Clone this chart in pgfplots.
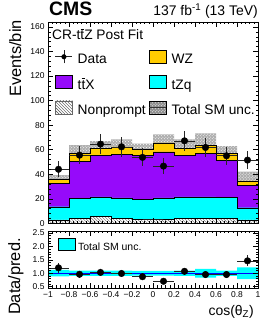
\documentclass[border=0pt]{standalone}
\usepackage{fontspec}
\setmainfont{Liberation Sans}
\usepackage{pgfplots}
\usepackage{pgfplotstable}
\pgfplotsset{compat=1.18}
\usepgfplotslibrary{fillbetween}
\usetikzlibrary{patterns}

\definecolor{wzc}{RGB}{255,204,0}
\definecolor{ttxc}{RGB}{150,10,250}
\definecolor{tzqc}{RGB}{0,255,255}
\definecolor{lineblue}{RGB}{0,0,255}

\newcommand\tbar{\leavevmode\rlap{\kern0.01em\raisebox{0.74em}{\rule{0.27em}{0.06em}}}t}

% stacked components per bin (left edge), last row repeated for the step end
\pgfplotstableread{
x np tzq ttx wz unc runc
-1.0 2.7 10.8 19.0 3.3 3.5 0.12
-0.8 4.0 16.3 30.3 6.3 6.8 0.10
-0.6 5.4 16.2 33.9 5.5 6.0 0.10
-0.4 4.0 16.8 35.5 6.0 6.0 0.10
-0.2 3.5 16.0 36.0 4.7 4.8 0.09
0.0 3.5 17.3 37.4 7.3 7.0 0.09
0.2 3.8 17.8 33.9 5.5 7.3 0.10
0.4 4.0 17.6 35.4 6.7 9.5 0.16
0.6 4.0 17.1 30.4 5.4 6.0 0.10
0.8 2.7 10.0 18.4 3.5 7.4 0.22
1.0 2.7 10.0 18.4 3.5 7.4 0.22
}\mc

\pgfplotstableread{
x ex y ey r er
-0.9 0.1 44.0 6.6 1.20 0.18
-0.7 0.1 55.5 7.5 0.96 0.13
-0.5 0.1 64.5 8.0 1.03 0.13
-0.3 0.1 62.3 7.9 0.99 0.13
-0.1 0.1 53.7 7.3 0.87 0.12
0.1 0.1 46.6 6.8 0.70 0.10
0.3 0.1 67.2 8.2 1.07 0.13
0.5 0.1 61.8 7.9 0.95 0.12
0.7 0.1 55.0 7.4 0.95 0.13
0.9 0.1 51.5 7.2 1.46 0.21
}\data

\pgfplotsset{
  cmsaxis/.style={
    scale only axis, anchor=south west, width=210bp,
    xmin=-1, xmax=1,
    xtick={-1,-0.8,-0.6,-0.4,-0.2,0,0.2,0.4,0.6,0.8,1},
    minor x tick num=4,
    tick align=inside,
    major tick length=5bp, minor tick length=2.5bp,
    tick style={black, line width=0.4bp},
    axis line style={line width=0.5bp},
    ticklabel style={font=\fontsize{8.5}{9}\selectfont},
    /pgf/number format/assume math mode=true,
    axis on top,
  },
  databars/.style={forget plot, only marks, mark=*, mark size=3.3bp, black,
    error bars/x dir=both, error bars/x explicit,
    error bars/y dir=both, error bars/y explicit,
    error bars/error mark=none,
    error bars/error bar style={black!85, line width=0.6bp}},
}

\begin{document}
\begin{tikzpicture}

\begin{axis}[cmsaxis,
  at={(48bp,103.7bp)}, height=201.3bp,
  ymin=0, ymax=164,
  xticklabels={},
  ytick={0,20,40,60,80,100,120,140,160},
  minor y tick num=4,
  legend columns=2,
  legend cell align=left,
  legend style={draw=none, fill=none, inner sep=0pt,
    at={(axis description cs:0.033,0.862)}, anchor=north west,
    font=\fontsize{13.8}{14}\selectfont,
    nodes={inner sep=0pt, text height=10bp, text depth=3bp},
    row sep=8.5bp,
    /tikz/every odd column/.append style={column sep=5bp},
    /tikz/every even column/.append style={column sep=3bp}},
]
% legend entries in display order
\addlegendimage{legend image code/.code={
  \draw[black!85, line width=0.6bp] (0bp,3.5bp)--(17bp,3.5bp);
  \draw[black!85, line width=0.6bp] (8.5bp,-3bp)--(8.5bp,10bp);
  \fill[black] (8.5bp,3.5bp) circle (2.3bp);}}
\addlegendentry{Data}
\addlegendimage{legend image code/.code={
  \draw[fill=wzc, line width=0.5bp] (0bp,-3bp) rectangle (17bp,10bp);}}
\addlegendentry{WZ}
\addlegendimage{legend image code/.code={
  \draw[fill=ttxc, line width=0.5bp] (0bp,-3bp) rectangle (17bp,10bp);}}
\addlegendentry{t\tbar X}
\addlegendimage{legend image code/.code={
  \draw[fill=tzqc, line width=0.5bp] (0bp,-3bp) rectangle (17bp,10bp);}}
\addlegendentry{tZq}
\addlegendimage{legend image code/.code={
  \draw[fill=white, postaction={pattern=north west lines, pattern color=black!70}, draw=black!60, line width=0.4bp] (0bp,-3bp) rectangle (17bp,10bp);}}
\addlegendentry{Nonprompt}
\addlegendimage{legend image code/.code={
  \fill[black!45] (0bp,-3bp) rectangle (17bp,10bp);
  \fill[pattern=crosshatch dots, pattern color=white] (0bp,-3bp) rectangle (17bp,10bp);
  \draw[black!80, line width=0.8bp] (0bp,3.5bp)--(17bp,3.5bp);}}
\addlegendentry{Total SM unc.}

% stacked histograms, drawn from the top of the stack downwards
\addplot[const plot, fill=wzc, draw=black, line width=0.4bp, forget plot]
  table[x=x, y expr=\thisrow{np}+\thisrow{tzq}+\thisrow{ttx}+\thisrow{wz}] {\mc} \closedcycle;
\addplot[const plot, fill=ttxc, draw=black, line width=0.4bp, forget plot]
  table[x=x, y expr=\thisrow{np}+\thisrow{tzq}+\thisrow{ttx}] {\mc} \closedcycle;
\addplot[const plot, fill=tzqc, draw=black, line width=0.4bp, forget plot]
  table[x=x, y expr=\thisrow{np}+\thisrow{tzq}] {\mc} \closedcycle;
\addplot[const plot, fill=white, postaction={pattern=north west lines, pattern color=black!60}, draw=black, line width=0.4bp, forget plot]
  table[x=x, y=np] {\mc} \closedcycle;

% total uncertainty band
\addplot[const plot, draw=none, name path=up, forget plot]
  table[x=x, y expr=\thisrow{np}+\thisrow{tzq}+\thisrow{ttx}+\thisrow{wz}+\thisrow{unc}] {\mc};
\addplot[const plot, draw=none, name path=lo, forget plot]
  table[x=x, y expr=\thisrow{np}+\thisrow{tzq}+\thisrow{ttx}+\thisrow{wz}-\thisrow{unc}] {\mc};
\addplot[fill=black, fill opacity=0.32, draw=none, forget plot] fill between[of=up and lo];
\addplot[pattern=crosshatch dots, pattern color=white, draw=none, forget plot] fill between[of=up and lo];

% data
\addplot[databars] table[x=x, y=y, x error=ex, y error=ey] {\data};
\end{axis}

\begin{axis}[cmsaxis,
  at={(48bp,39bp)}, height=57bp,
  ymin=0.45, ymax=2.57,
  xticklabels={−1,−0.8,−0.6,−0.4,−0.2,0,0.2,0.4,0.6,0.8,1},
  ytick={0.5,1.0,1.5,2.0,2.5},
  yticklabels={0.5,1.0,1.5,2.0,2.5},
  minor y tick num=4,
  legend cell align=left,
  legend style={draw=none, fill=none, inner sep=0pt,
    at={(axis description cs:0.046,0.88)}, anchor=north west,
    font=\fontsize{10.5}{11}\selectfont,
    nodes={inner sep=0pt},
    /tikz/every odd column/.append style={column sep=3bp}},
]
\addlegendimage{legend image code/.code={
  \draw[fill=tzqc, line width=0.5bp] (0bp,-3bp) rectangle (16.7bp,9.3bp);}}
\addlegendentry{Total SM unc.}
\addplot[const plot, draw=none, name path=rup, forget plot]
  table[x=x, y expr=1+\thisrow{runc}] {\mc};
\addplot[const plot, draw=none, name path=rlo, forget plot]
  table[x=x, y expr=1-\thisrow{runc}] {\mc};
\addplot[fill=tzqc, draw=none, forget plot] fill between[of=rup and rlo];
\addplot[lineblue, line width=1.2bp, forget plot] coordinates {(-1,1) (1,1)};
\addplot[databars] table[x=x, y=r, x error=ex, y error=er] {\data};
\end{axis}

\node[anchor=base west, inner sep=0pt, font=\bfseries\fontsize{19.5}{20}\selectfont] at (49bp,311.5bp) {CMS};
\node[anchor=base east, inner sep=0pt, font=\fontsize{14}{14}\selectfont] at (258bp,311bp) {137 fb\textsuperscript{-1} (13 TeV)};
\node[anchor=base west, inner sep=0pt, font=\fontsize{13.8}{14}\selectfont] at (52bp,287bp) {CR-t\tbar Z Post Fit};
\node[rotate=90, anchor=base east, inner sep=0pt, font=\fontsize{16.5}{17}\selectfont] at (21bp,307bp) {Events/bin};
\node[rotate=90, anchor=base east, inner sep=0pt, font=\fontsize{16.5}{17}\selectfont] at (20bp,89bp) {Data/pred.};
\node[anchor=base east, inner sep=0pt, font=\fontsize{14}{14}\selectfont] at (254bp,12bp) {cos(θ\textsubscript{Z})};
\pgfresetboundingbox
\useasboundingbox (0,0) rectangle (270bp,327bp);
\end{tikzpicture}
\end{document}
